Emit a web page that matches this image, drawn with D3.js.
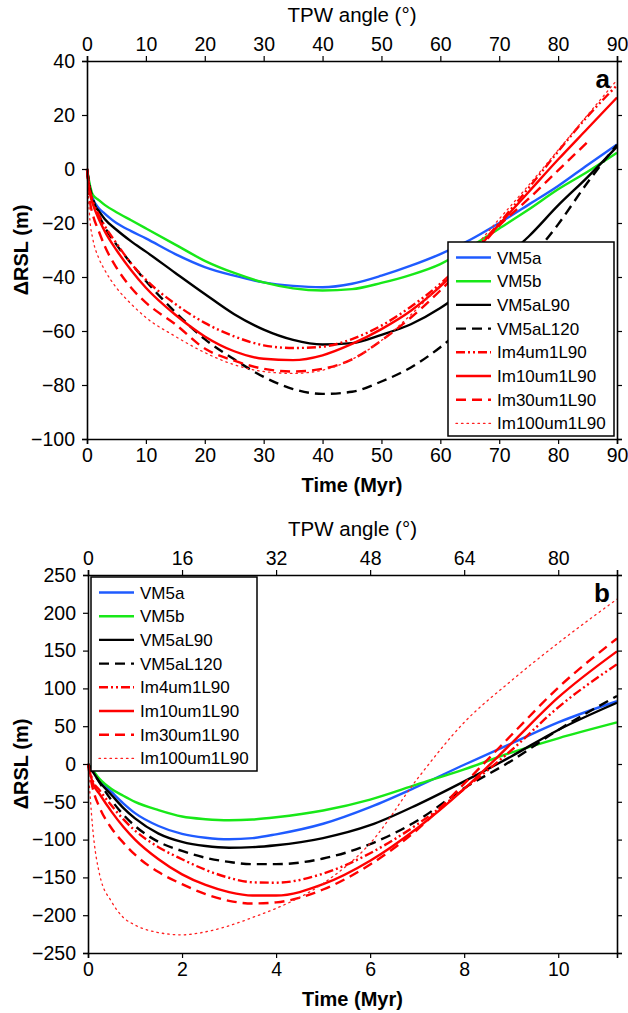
<!DOCTYPE html>
<html>
<head>
<meta charset="utf-8">
<script src="https://cdn.jsdelivr.net/npm/d3@7"></script>
<style>
  body { margin: 0; background: #fff; }
  svg text { font-family: "Liberation Sans", Arial, sans-serif; }
</style>
</head>
<body>
<div id="chart"></div>
<script>
// series names, shared by both panels
var seriesNames = ["VM5a", "VM5b", "VM5aL90", "VM5aL120", "Im4um1L90", "Im10um1L90", "Im30um1L90", "Im100um1L90"];

// panel a : time (Myr), 1 deg of TPW per Myr
var timeA = [0, 0.5, 1, 2, 3, 5, 7.5, 10, 15, 20, 25, 30, 35, 40, 45, 50, 55, 60, 65, 70, 75, 80, 85, 90];
var vm5aA    = [0, -7, -11, -14.5, -16.5, -20, -23, -25.7, -31.5, -36.3, -39.5, -42, -43.3, -43.8, -42.5, -39.5, -35.8, -31.5, -26.3, -20, -13.2, -6.3, 1.5, 9.1];
var vm5bA    = [0, -6, -9.6, -11.5, -13.3, -16, -19, -22, -28, -34, -38.5, -42, -44.2, -45, -44.5, -42.2, -39.2, -35.2, -29, -22, -15, -7.5, -1, 6];
var vm5aL90A = [0, -8, -12.5, -15.5, -18.5, -22.5, -26.8, -30.6, -38.5, -46.3, -53.8, -59.5, -63.3, -65, -64.5, -61.4, -57.5, -51.5, -43.5, -34.5, -25, -13.5, -3, 8.3];
var vm5aL120A = [0, -7, -11, -17, -21.5, -28, -35, -41.5, -53, -63, -70.5, -77, -81.5, -83.3, -82.5, -78.7, -73.5, -66, -56.5, -46, -34, -20.5, -5, 9];
var im4A     = [0, -8, -12, -17, -21, -27.5, -35, -41, -50, -57, -62, -65.3, -66.3, -65.8, -63, -58, -51, -42.5, -32, -20, -7, 6.5, 19.5, 31];
var im10A    = [0, -9, -13, -18.5, -23, -30, -37.5, -44, -54, -62, -67.5, -70.3, -70.8, -69, -64.8, -59.3, -52.5, -43.5, -32.5, -20.5, -8.5, 3.5, 15, 26.5];
var im30A    = [0, -12, -17, -23, -28.5, -36.5, -44, -49.5, -57.5, -66.5, -71, -74, -75, -74, -70.5, -63.5, -55, -45, -33.5, -21, -11, -0.5, 10, null];
var im100A   = [0, -19, -26, -33, -37.4, -44, -50, -55, -62, -68, -72.5, -75, -75.7, -74.5, -70.5, -63.5, -54, -43, -31, -18.5, -6, 7, 20, 33];

// panel b : time (Myr), 8 deg of TPW per Myr
var timeB = [0, 0.1, 0.25, 0.5, 0.75, 1, 1.5, 2, 2.5, 3, 3.5, 4, 5, 6, 7, 8, 9, 10, 11.25];
var vm5aB    = [0, -9, -22, -37, -52, -65, -82, -92.5, -97.5, -99.5, -98, -93, -79, -57, -30, -1, 27, 55, 83];
var vm5bB    = [0, -8, -20, -33, -42, -50, -61, -69.5, -73, -74.5, -73.5, -70.5, -61.5, -47, -27, -7, 15, 34, 55];
var vm5aL90B = [0, -10, -24, -41, -58, -72, -92, -103, -108.5, -110.7, -110, -107.5, -98, -81, -54, -23, 10, 45, 81];
var vm5aL120B = [0, -10, -25, -48, -67, -82, -103, -115, -124, -129.5, -132.5, -132.5, -125, -106, -75, -32, 4, 45, 90];
var im4B     = [0, -22, -35, -55, -73, -88, -110, -126, -140, -150.5, -156.5, -157, -145, -118, -80, -33, 18, 75, 132];
var im10B    = [0, -25, -40, -63, -83, -100, -126, -146, -160, -169.5, -174, -174, -159, -128, -85, -33, 27, 88, 149];
var im30B    = [0, -32, -58, -85, -104, -120, -143, -159, -172, -181, -184.5, -183, -166, -133, -87, -26, 38, 101, 166];
var im100B   = [0, -85, -147, -182, -203, -213, -223, -226, -222, -214, -203, -191, -158, -105, -20, 55, 110, 160, 218];

// tick values
var bottomTicksA = [0, 10, 20, 30, 40, 50, 60, 70, 80, 90];
var topTicksA = [0, 10, 20, 30, 40, 50, 60, 70, 80, 90];
var yTicksA = [40, 20, 0, -20, -40, -60, -80, -100];
var bottomTicksB = [0, 2, 4, 6, 8, 10];
var topTicksB = [0, 16, 32, 48, 64, 80];
var yTicksB = [250, 200, 150, 100, 50, 0, -50, -100, -150, -200, -250];

// styles per series
var styles = [
    { color: "#1f5bff", dash: null, width: 2.4 },
    { color: "#18e818", dash: null, width: 2.4 },
    { color: "#000000", dash: null, width: 2.4 },
    { color: "#000000", dash: "10,6", width: 2.4 },
    { color: "#ff0000", dash: "9,3,2,3,2,3", width: 2.4 },
    { color: "#ff0000", dash: null, width: 2.4 },
    { color: "#ff0000", dash: "10,6", width: 2.4 },
    { color: "#ff2020", dash: "1.5,4", width: 1.3 }
];

var svg = d3.select("#chart").append("svg")
    .attr("width", 628)
    .attr("height", 1013);

function drawPanel(opt) {
    var x = d3.scaleLinear().domain(opt.xDomain).range([opt.left, opt.right]);
    var xTop = d3.scaleLinear().domain(opt.topDomain).range([opt.left, opt.right]);
    var y = d3.scaleLinear().domain(opt.yDomain).range([opt.bottom, opt.top]);

    var g = svg.append("g");

    // curves
    opt.series.forEach(function(vals, i) {
        var st = styles[i];
        var pts = opt.time.map((t, k) => ({ t: t, v: vals[k] }));
        var line = d3.line()
            .defined(d => d.v !== null)
            .x(d => x(d.t))
            .y(d => y(d.v))
            .curve(d3.curveMonotoneX);
        g.append("path")
            .datum(pts)
            .attr("d", line)
            .attr("fill", "none")
            .attr("stroke", st.color)
            .attr("stroke-width", st.width)
            .attr("stroke-dasharray", st.dash)
            .attr("stroke-linecap", st.dash === "1.5,4" ? "round" : "butt");
    });

    // axes
    var fmt = d3.format("");
    g.append("g").attr("transform", "translate(0," + opt.bottom + ")")
        .call(d3.axisBottom(x).tickValues(opt.bottomTicks).tickSize(5).tickPadding(4).tickFormat(fmt));
    g.append("g").attr("transform", "translate(0," + opt.top + ")")
        .call(d3.axisTop(xTop).tickValues(opt.topTicks).tickSize(5).tickPadding(5).tickFormat(fmt));
    g.append("g").attr("transform", "translate(" + opt.left + ",0)")
        .call(d3.axisLeft(y).tickValues(opt.yTicks).tickSize(5).tickPadding(7).tickFormat(d3.format("")));
    g.append("g").attr("transform", "translate(" + opt.right + ",0)")
        .call(d3.axisRight(y).tickValues(opt.yTicks).tickSize(5).tickFormat(""));

    g.selectAll(".domain").attr("stroke", "#000").attr("stroke-width", 1.6);
    g.selectAll(".tick line").attr("stroke", "#000").attr("stroke-width", 1.2);
    g.selectAll(".tick text")
        .attr("fill", "#000")
        .style("font-size", "19.5px");

    // axis titles
    g.append("text")
        .attr("x", (opt.left + opt.right) / 2)
        .attr("y", opt.bottom + 53)
        .attr("text-anchor", "middle")
        .style("font-size", "20px")
        .style("font-weight", "bold")
        .text("Time (Myr)");
    g.append("text")
        .attr("x", (opt.left + opt.right) / 2)
        .attr("y", opt.top - 39)
        .attr("text-anchor", "middle")
        .style("font-size", "20.5px")
        .text("TPW angle (°)");
    g.append("text")
        .attr("transform", "translate(28," + (opt.top + opt.bottom) / 2 + ") rotate(-90)")
        .attr("text-anchor", "middle")
        .style("font-size", "20px")
        .style("font-weight", "bold")
        .text("ΔRSL (m)");

    // panel letter
    g.append("text")
        .attr("x", opt.right - 7)
        .attr("y", opt.top + 27)
        .attr("text-anchor", "end")
        .style("font-size", "26px")
        .style("font-weight", "bold")
        .text(opt.letter);

    // legend
    var lg = g.append("g").attr("transform", "translate(" + opt.legendX + "," + opt.legendY + ")");
    lg.append("rect")
        .attr("x", 0).attr("y", 0)
        .attr("width", 166).attr("height", 194)
        .attr("fill", "#fff")
        .attr("stroke", "#000")
        .attr("stroke-width", 1.5);
    seriesNames.forEach(function(name, i) {
        var st = styles[i];
        var cy = 15.5 + i * 23.7;
        lg.append("line")
            .attr("x1", 8).attr("x2", 43)
            .attr("y1", cy).attr("y2", cy)
            .attr("stroke", st.color)
            .attr("stroke-width", st.width)
            .attr("stroke-dasharray", st.dash)
            .attr("stroke-linecap", st.dash === "1.5,4" ? "round" : "butt");
        lg.append("text")
            .attr("x", 49)
            .attr("y", cy + 6)
            .style("font-size", "17px")
            .attr("fill", "#000")
            .text(name);
    });
}

drawPanel({
    left: 87, right: 617, top: 61, bottom: 439,
    xDomain: [0, 90], topDomain: [0, 90], yDomain: [-100, 40],
    time: timeA,
    series: [vm5aA, vm5bA, vm5aL90A, vm5aL120A, im4A, im10A, im30A, im100A],
    bottomTicks: bottomTicksA, topTicks: topTicksA, yTicks: yTicksA,
    letter: "a", legendX: 448, legendY: 242
});

drawPanel({
    left: 88, right: 617, top: 575, bottom: 953,
    xDomain: [0, 11.25], topDomain: [0, 90], yDomain: [-250, 250],
    time: timeB,
    series: [vm5aB, vm5bB, vm5aL90B, vm5aL120B, im4B, im10B, im30B, im100B],
    bottomTicks: bottomTicksB, topTicks: topTicksB, yTicks: yTicksB,
    letter: "b", legendX: 91, legendY: 577
});
</script>
</body>
</html>
